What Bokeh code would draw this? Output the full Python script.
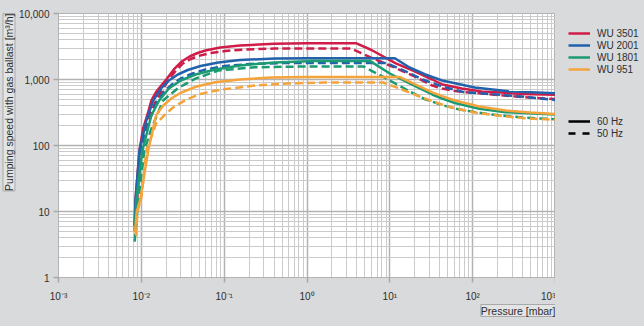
from bokeh.plotting import figure
from bokeh.layouts import row
from bokeh.models import FixedTicker, Legend, LegendItem, Range1d, Title
from bokeh.embed import file_html
from bokeh.resources import INLINE

# ---------------- data ----------------
pressure_ticks = [1e-3, 1e-2, 1e-1, 1, 10, 100, 1000]
pressure_tick_labels = ["10⁻³", "10⁻²", "10⁻¹", "10⁰", "10¹", "10²", "10³"]
speed_ticks = [1, 10, 100, 1000, 10000]
speed_tick_labels = ["1", "10", "100", "1,000", "10,000"]

pumps = ["WU 3501", "WU 2001", "WU 1801", "WU 951"]
freq_labels = ["60 Hz", "50 Hz"]

wu3501_60_p = [0.0083, 0.0085, 0.0095, 0.0105, 0.0121, 0.0132, 0.0151, 0.02, 0.0247, 0.0308, 0.0383, 0.0477, 0.0594, 0.0896, 0.155, 0.405, 1, 3.9, 6, 11.8, 20, 32.5, 43, 74, 128, 221, 383, 1000]
wu3501_60_s = [6, 15, 85, 180, 320, 480, 650, 1000, 1420, 1875, 2230, 2520, 2750, 3050, 3275, 3480, 3550, 3550, 2800, 1750, 1330, 1000, 840, 730, 660, 635, 603, 585]
wu3501_50_p = [0.0086, 0.0089, 0.0098, 0.011, 0.0128, 0.0151, 0.0183, 0.0215, 0.0261, 0.0316, 0.0394, 0.049, 0.0681, 0.1028, 0.178, 0.405, 1, 3.4, 6.3, 10, 18.8, 32.5, 43, 68, 128, 221, 383, 1000]
wu3501_50_s = [6, 15, 80, 170, 300, 481, 731, 1000, 1368, 1747, 2045, 2270, 2520, 2700, 2850, 2950, 2950, 2950, 2080, 1630, 1150, 810, 730, 655, 615, 575, 545, 505]

wu2001_60_p = [0.0083, 0.0085, 0.0095, 0.0115, 0.0139, 0.0173, 0.0215, 0.0276, 0.0363, 0.0518, 0.085, 0.155, 0.405, 1, 11.5, 17.3, 26.8, 42.8, 106, 268, 1000]
wu2001_60_s = [6, 15, 84, 239, 481, 731, 966, 1191, 1393, 1602, 1810, 1974, 2080, 2100, 2100, 1520, 1190, 966, 756, 665, 620]
wu2001_50_p = [0.0085, 0.0088, 0.0098, 0.0125, 0.0151, 0.0188, 0.0234, 0.0299, 0.0416, 0.0594, 0.1028, 0.204, 0.532, 1, 9, 15, 25, 43, 80, 155, 383, 1000]
wu2001_50_s = [6, 15, 80, 239, 433, 658, 840, 1036, 1233, 1418, 1602, 1718, 1780, 1780, 1780, 1350, 1000, 780, 640, 605, 552, 490]

wu1801_60_p = [0.0083, 0.0087, 0.0103, 0.0132, 0.0164, 0.0215, 0.0299, 0.0452, 0.0781, 0.155, 0.405, 1.21, 5.8, 10, 17.3, 32.5, 42.8, 61, 120, 250, 1000]
wu1801_60_s = [5, 15, 84, 285, 481, 731, 966, 1191, 1418, 1630, 1810, 1900, 1900, 1233, 870, 593, 515, 440, 360, 320, 295]
wu1801_50_p = [0.0083, 0.0092, 0.0109, 0.013, 0.0183, 0.0283, 0.045, 0.085, 0.234, 1, 4.8, 10, 17.3, 26.8, 42.8, 70, 150, 400, 1000]
wu1801_50_s = [3.5, 15, 84, 170, 481, 755, 1030, 1370, 1530, 1580, 1580, 966, 660, 500, 410, 350, 300, 265, 250]

wu951_60_p = [0.0084, 0.0088, 0.0097, 0.011, 0.0121, 0.0151, 0.0183, 0.0228, 0.0299, 0.0452, 0.0781, 0.155, 0.372, 1, 13.2, 20, 32.5, 42.8, 61, 120, 250, 500, 1000]
wu951_60_s = [4.8, 10, 15, 40, 84, 290, 400, 510, 630, 775, 910, 1000, 1074, 1090, 1090, 850, 640, 560, 480, 390, 340, 315, 300]
wu951_50_p = [0.0086, 0.009, 0.01, 0.0115, 0.0151, 0.0183, 0.024, 0.0343, 0.0518, 0.0896, 0.234, 0.578, 1.59, 8.3, 12, 20, 32.5, 50, 100, 200, 400, 1000]
wu951_50_s = [4.3, 10, 16, 84, 215, 275, 375, 490, 605, 700, 811, 870, 900, 900, 760, 590, 470, 390, 320, 285, 260, 245]

colors = ["#d01c48", "#2262ad", "#1a9b72", "#f5a33b"]

series = [
    (wu3501_60_p, wu3501_60_s, wu3501_50_p, wu3501_50_s),
    (wu2001_60_p, wu2001_60_s, wu2001_50_p, wu2001_50_s),
    (wu1801_60_p, wu1801_60_s, wu1801_50_p, wu1801_50_s),
    (wu951_60_p, wu951_60_s, wu951_50_p, wu951_50_s),
]

X_RANGE = (1e-3, 1e3)
Y_RANGE = (1, 1e4)

FONT = "Liberation Sans"
TEXT_COLOR = "#2e2e2e"
BOX_FILL = "#e3e4e5"
BOX_LINE = "#a9a9a9"
BG = "#d9dadb"
DASH = "8 4"

# ---------------- main chart ----------------
p = figure(width=555, height=326, x_axis_type="log", y_axis_type="log",
           x_range=Range1d(*X_RANGE), y_range=Range1d(*Y_RANGE),
           output_backend="svg", toolbar_location=None,
           min_border_left=51, min_border_right=0, min_border_top=13, min_border_bottom=49)

p.background_fill_color = "white"
p.border_fill_color = BG
p.outline_line_color = "#b3b3b3"

x_minor = [d * k for d in pressure_ticks[:-1] for k in range(2, 10)]
y_minor = [d * k for d in speed_ticks[:-1] for k in range(2, 10)]
p.xaxis.ticker = FixedTicker(ticks=pressure_ticks, minor_ticks=x_minor)
p.yaxis.ticker = FixedTicker(ticks=speed_ticks, minor_ticks=y_minor)
p.xaxis.major_label_overrides = dict(zip(pressure_ticks, pressure_tick_labels))
p.yaxis.major_label_overrides = dict(zip(speed_ticks, speed_tick_labels))

for ax in (p.xaxis, p.yaxis):
    ax.axis_line_color = "#b3b3b3"
    ax.major_tick_line_color = "#a8a8a8"
    ax.major_tick_line_width = 1.5
    ax.major_tick_out = 5
    ax.major_tick_in = 0
    ax.minor_tick_out = 0
    ax.minor_tick_in = 0
    ax.major_label_text_font = FONT
    ax.major_label_text_font_size = "10px"
    ax.major_label_text_color = TEXT_COLOR
p.xaxis.major_label_standoff = 8
p.yaxis.major_label_standoff = 4

for g in (p.xgrid, p.ygrid):
    g.grid_line_color = "#b2b2b2"
    g.grid_line_width = 1.5
    g.minor_grid_line_color = "#cbcbcb"
    g.minor_grid_line_width = 1

for (p60, s60, p50, s50), c in zip(series, colors):
    p.line(p60, s60, line_color=c, line_width=2.5)
    p.line(p50, s50, line_color=c, line_width=2.5, line_dash=DASH)

ytitle = Title(text="Pumping speed with gas ballast [m³/h]", align="right",
               text_font=FONT, text_font_size="10.5px", text_font_style="normal",
               text_color=TEXT_COLOR, background_fill_color=BOX_FILL,
               border_line_color=BOX_LINE, standoff=1)
p.add_layout(ytitle, "left")

xtitle = Title(text="Pressure [mbar]", align="right",
               text_font=FONT, text_font_size="10.5px", text_font_style="normal",
               text_color=TEXT_COLOR, background_fill_color=BOX_FILL,
               border_line_color=BOX_LINE, standoff=-4)
p.add_layout(xtitle, "below")

# ---------------- legend panel ----------------
lp = figure(width=89, height=326, x_range=Range1d(0, 1), y_range=Range1d(0, 1),
            x_axis_location=None, y_axis_location=None,
            output_backend="svg", toolbar_location=None,
            min_border_left=0, min_border_right=0, min_border_top=0, min_border_bottom=0)
lp.grid.visible = False
lp.outline_line_color = None
lp.background_fill_color = BG
lp.border_fill_color = BG

pump_glyphs = [lp.line([0.5], [0.5], line_color=c, line_width=2.5) for c in colors]
freq_glyphs = [lp.line([0.5], [0.5], line_color="black", line_width=2.5),
               lp.line([0.5], [0.5], line_color="black", line_width=2.5, line_dash="7 7")]

common = dict(orientation="vertical", border_line_color=None, background_fill_alpha=0,
              padding=0, margin=0, spacing=0, glyph_width=22, glyph_height=12,
              label_height=12, label_standoff=7, label_text_font=FONT,
              label_text_font_size="10px", label_text_color=TEXT_COLOR)
leg1 = Legend(items=[LegendItem(label=n, renderers=[r]) for n, r in zip(pumps, pump_glyphs)],
              location=(13, 202), **common)
leg2 = Legend(items=[LegendItem(label=n, renderers=[r]) for n, r in zip(freq_labels, freq_glyphs)],
              location=(13, 138), **common)
lp.add_layout(leg1)
lp.add_layout(leg2)

layout = row(p, lp, spacing=0)
layout.styles = {"background-color": BG}
open("out.html", "w").write(file_html(layout, INLINE))
